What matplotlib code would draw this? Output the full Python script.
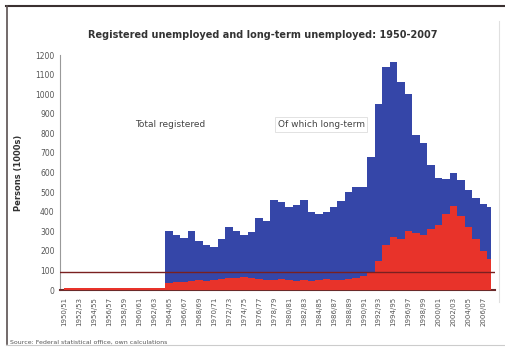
import matplotlib.pyplot as plt
from matplotlib.lines import Line2D

# annual values, thousands of persons
years = list(range(1950, 2008))
total = [12, 12, 12, 12, 12, 12, 12, 12, 12, 12, 12, 12, 12, 12,
         300, 280, 265, 300, 250, 230, 220, 260, 320, 300, 280, 296,
         370, 350, 460, 450, 425, 435, 460, 400, 390, 400, 425, 455,
         500, 525, 525, 680, 950, 1140, 1165, 1060, 1000, 790, 750, 640,
         570, 565, 600, 560, 510, 470, 440, 425]
long_term = [10, 10, 10, 10, 10, 10, 10, 10, 10, 10, 10, 10, 10, 10,
             35, 40, 40, 45, 50, 45, 50, 55, 60,
             60, 65, 60, 55, 50, 50, 55, 50, 45, 50, 45, 50, 55, 50, 50, 55, 60, 70,
             90, 150, 230, 270, 260, 300, 290, 280, 310,
             330, 390, 430, 380, 320, 260, 200, 160]
threshold = 90
tick_years = years[::2]
tick_labels = [f"{y}/{(y + 1) % 100:02d}" for y in tick_years]
y_ticks = list(range(0, 1300, 100))

fig = plt.figure(figsize=(5.06, 3.55), dpi=100)
ax = fig.add_axes([0.119, 0.183, 0.859, 0.662])

ax.fill_between(years, total, step="mid", color="#3546a8", lw=0, zorder=2)
ax.fill_between(years, long_term, step="mid", color="#e8332a", lw=0, zorder=3)
ax.axhline(threshold, color="#7a2020", lw=1.0, zorder=4)

ax.set_xlim(years[0] - 0.5, years[-1] + 0.5)
ax.set_ylim(0, 1200)
ax.set_yticks(y_ticks)
ax.set_yticklabels([str(v) for v in y_ticks], fontsize=5.5, color="#555555")
ax.set_xticks(tick_years)
ax.set_xticklabels(tick_labels, rotation=90, fontsize=5, color="#555555")
ax.tick_params(axis="y", length=0, pad=4)
ax.tick_params(axis="x", length=0, pad=5)

for side in ("top", "right"):
    ax.spines[side].set_visible(False)
ax.spines["left"].set_color("#999999")
ax.spines["bottom"].set_color("#6a2a2a")
ax.spines["bottom"].set_linewidth(1.5)

ax.set_ylabel("Persons (1000s)", fontsize=6, fontweight="bold", color="#333333",
              labelpad=9)

# series names placed inside the plot area
ax.text(1959.5, 845, "Total registered", fontsize=6.5, color="#444444", va="center")
ax.text(1978.5, 845, "Of which long-term", fontsize=6.5, color="#444444", va="center",
        bbox=dict(boxstyle="square,pad=0.3", fc="white", ec="#dddddd", lw=0.6))

fig.text(0.52, 0.9, "Registered unemployed and long-term unemployed: 1950-2007",
         ha="center", va="center", fontsize=7, fontweight="bold", color="#333333")
fig.text(0.02, 0.035, "Source: Federal statistical office, own calculations",
         fontsize=4.5, color="#555555", va="center")

# outer frame
fig.add_artist(Line2D([0.012, 0.998], [0.982, 0.982], transform=fig.transFigure,
                      color="#3a3030", lw=1.5))
fig.add_artist(Line2D([0.014, 0.014], [0.03, 0.982], transform=fig.transFigure,
                      color="#5a5050", lw=1.2))
fig.add_artist(Line2D([0.012, 0.998], [0.028, 0.028], transform=fig.transFigure,
                      color="#cccccc", lw=0.8))
fig.add_artist(Line2D([0.987, 0.987], [0.15, 0.94], transform=fig.transFigure,
                      color="#e0e0e0", lw=0.8))

fig.savefig("out.png", dpi=100)
